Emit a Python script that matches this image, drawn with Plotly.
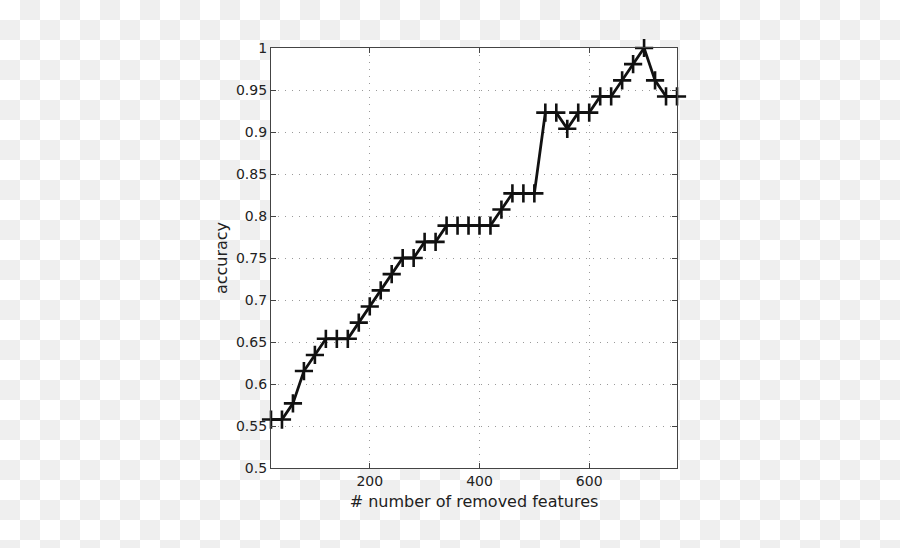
import base64
import plotly.graph_objects as go

# ---- data ----
removed_features = [20, 40, 60, 80, 100, 120, 140, 160, 180, 200, 220, 240, 260, 280,
                    300, 320, 340, 360, 380, 400, 420, 440, 460, 480, 500, 520, 540,
                    560, 580, 600, 620, 640, 660, 680, 700, 720, 740, 760]
accuracy = [0.5577, 0.5577, 0.5769, 0.6154, 0.6346, 0.6538, 0.6538, 0.6538, 0.6731,
            0.6923, 0.7115, 0.7308, 0.7500, 0.7500, 0.7692, 0.7692, 0.7885, 0.7885,
            0.7885, 0.7885, 0.7885, 0.8077, 0.8269, 0.8269, 0.8269, 0.9231, 0.9231,
            0.9038, 0.9231, 0.9231, 0.9423, 0.9423, 0.9615, 0.9808, 1.0000, 0.9615,
            0.9423, 0.9423]
x_ticks = [200, 400, 600]
y_ticks = [0.5, 0.55, 0.6, 0.65, 0.7, 0.75, 0.8, 0.85, 0.9, 0.95, 1.0]
x_title = "# number of removed features"
y_title = "accuracy"

# ---- layout geometry ----
W, H = 900, 548
L, R, T, B = 271, 223, 48, 80
pw, ph = W - L - R, H - T - B

# checkerboard background (transparent-PNG look)
svg = (f'<svg xmlns="http://www.w3.org/2000/svg" width="{W}" height="{H}">'
       '<defs><pattern id="c" width="40" height="40" patternUnits="userSpaceOnUse">'
       '<rect width="40" height="40" fill="#ffffff"/>'
       '<rect x="20" y="0" width="20" height="20" fill="#efefef"/>'
       '<rect x="0" y="20" width="20" height="20" fill="#efefef"/>'
       '</pattern></defs>'
       f'<rect width="{W}" height="{H}" fill="url(#c)"/></svg>')
svg_uri = "data:image/svg+xml;base64," + base64.b64encode(svg.encode()).decode()

FONT = "DejaVu Sans, Liberation Sans, Arial, sans-serif"

fig = go.Figure()
fig.add_trace(go.Scatter(
    x=removed_features, y=accuracy,
    mode="lines+markers",
    line=dict(color="#111111", width=2.8),
    marker=dict(symbol="cross-thin", size=13, line=dict(color="#111111", width=2.6)),
    cliponaxis=False,
    showlegend=False,
))

axis_common = dict(
    showline=True, linecolor="#444444", linewidth=1.3, mirror="ticks",
    ticks="inside", ticklen=5, tickwidth=1, tickcolor="#444444",
    showgrid=True, gridcolor="#9a9a9a", griddash="1.2px,5.8px", gridwidth=1,
    zeroline=False,
    tickfont=dict(family=FONT, size=14, color="#222222"),
    title_font=dict(family=FONT, size=16, color="#222222"),
)

fig.update_layout(
    width=W, height=H,
    margin=dict(l=L, r=R, t=T, b=B, pad=0),
    paper_bgcolor="#ffffff",
    plot_bgcolor="#ffffff",
    xaxis=dict(range=[20, 760], tickvals=x_ticks, title=dict(text=x_title, standoff=7),
               **axis_common),
    yaxis=dict(range=[0.5, 1.0], tickvals=y_ticks, title=dict(text=y_title, standoff=4),
               **axis_common),
    images=[dict(source=svg_uri, xref="paper", yref="paper",
                 x=-L / pw, y=1 + T / ph, sizex=W / pw, sizey=H / ph,
                 xanchor="left", yanchor="top", sizing="stretch", layer="below")],
    shapes=[dict(type="rect", xref="paper", yref="paper", x0=0, x1=1, y0=0, y1=1,
                 fillcolor="#ffffff", line=dict(width=0), layer="below")],
)

fig.write_html("out.html")
